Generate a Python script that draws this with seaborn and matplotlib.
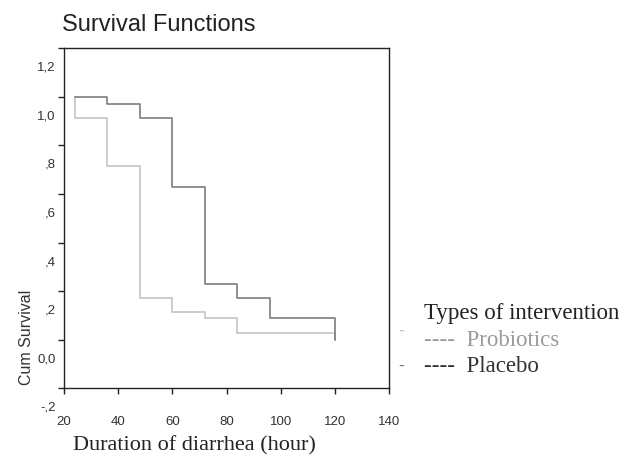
import matplotlib
matplotlib.use("Agg")
import matplotlib.pyplot as plt
from matplotlib.transforms import ScaledTranslation
import seaborn as sns
import pandas as pd

# Data (step points, steps-post)
hours_probiotics = [24, 24, 36, 48, 60, 72, 84, 120, 120]
surv_probiotics = [1.0, 0.913, 0.714, 0.171, 0.114, 0.090, 0.026, 0.026, 0.0]
hours_placebo = [24, 36, 48, 60, 72, 84, 96, 120, 120]
surv_placebo = [1.0, 0.972, 0.913, 0.629, 0.228, 0.170, 0.090, 0.090, 0.0]
groups = ["Probiotics", "Placebo"]
x_ticks = [20, 40, 60, 80, 100, 120, 140]
y_ticks = [-0.2, 0.0, 0.2, 0.4, 0.6, 0.8, 1.0, 1.2]
y_ticklabels = ["-,2", "0,0", ",2", ",4", ",6", ",8", "1,0", "1,2"]

df = pd.concat([
    pd.DataFrame({"hour": hours_probiotics, "surv": surv_probiotics, "group": groups[0]}),
    pd.DataFrame({"hour": hours_placebo, "surv": surv_placebo, "group": groups[1]}),
], ignore_index=True)

sns.set_theme(style="ticks")
plt.rcParams["font.family"] = ["Liberation Sans", "DejaVu Sans"]

fig = plt.figure(figsize=(6.22, 4.62), dpi=100)
ax = fig.add_axes([64 / 622, 1 - 388.3 / 462, (389 - 64) / 622, (388.3 - 48.3) / 462])

palette = {"Probiotics": "#c4c4c4", "Placebo": "#7d7d7d"}
sns.lineplot(data=df, x="hour", y="surv", hue="group", palette=palette,
             estimator=None, sort=False, drawstyle="steps-post",
             linewidth=1.2, legend=False, ax=ax)

ax.set_xlim(20, 140)
ax.set_ylim(-0.2, 1.2)
ax.set_xticks(x_ticks)
ax.set_xticklabels([str(v) for v in x_ticks])
ax.set_yticks(y_ticks)
ax.set_yticklabels(y_ticklabels)
for s in ax.spines.values():
    s.set_visible(True)
    s.set_color("#222222")
    s.set_linewidth(1.0)
ax.tick_params(axis="both", direction="out", length=4, width=1, color="#222222",
               labelsize=9.5, labelcolor="#333333")
ax.tick_params(axis="x", pad=16)
ax.tick_params(axis="y", pad=2)
off = ScaledTranslation(0, -18 / 100, fig.dpi_scale_trans)
for lab in ax.get_yticklabels():
    lab.set_transform(lab.get_transform() + off)

ax.set_xlabel("")
ax.set_ylabel("Cum Survival", fontsize=11.5, color="#333333")
ax.yaxis.set_label_coords(-0.092, 0.15)

fig.text(62 / 622, 1 - 25 / 462, "Survival Functions", fontsize=17,
         color="#222222", ha="left", va="center")
fig.text(73 / 622, 1 - 450 / 462, "Duration of diarrhea (hour)",
         family="Liberation Serif", fontsize=16, color="#222222",
         ha="left", va="baseline")

# legend as text
serif = "Liberation Serif"
fig.text(424 / 622, 1 - 313 / 462, "Types of intervention",
         family=serif, fontsize=16.5, color="#222222", ha="left", va="center")
fig.text(424 / 622, 1 - 340 / 462, "----  Probiotics",
         family=serif, fontsize=16.5, color="#9a9a9a", ha="left", va="center")
fig.text(424 / 622, 1 - 366 / 462, "----  Placebo",
         family=serif, fontsize=16.5, color="#333333", ha="left", va="center")
fig.text(398 / 622, 1 - 331 / 462, "-", fontsize=13, color=palette["Probiotics"],
         ha="left", va="center")
fig.text(398 / 622, 1 - 366 / 462, "-", fontsize=13, color=palette["Placebo"],
         ha="left", va="center")

fig.savefig("out.png", dpi=100)
